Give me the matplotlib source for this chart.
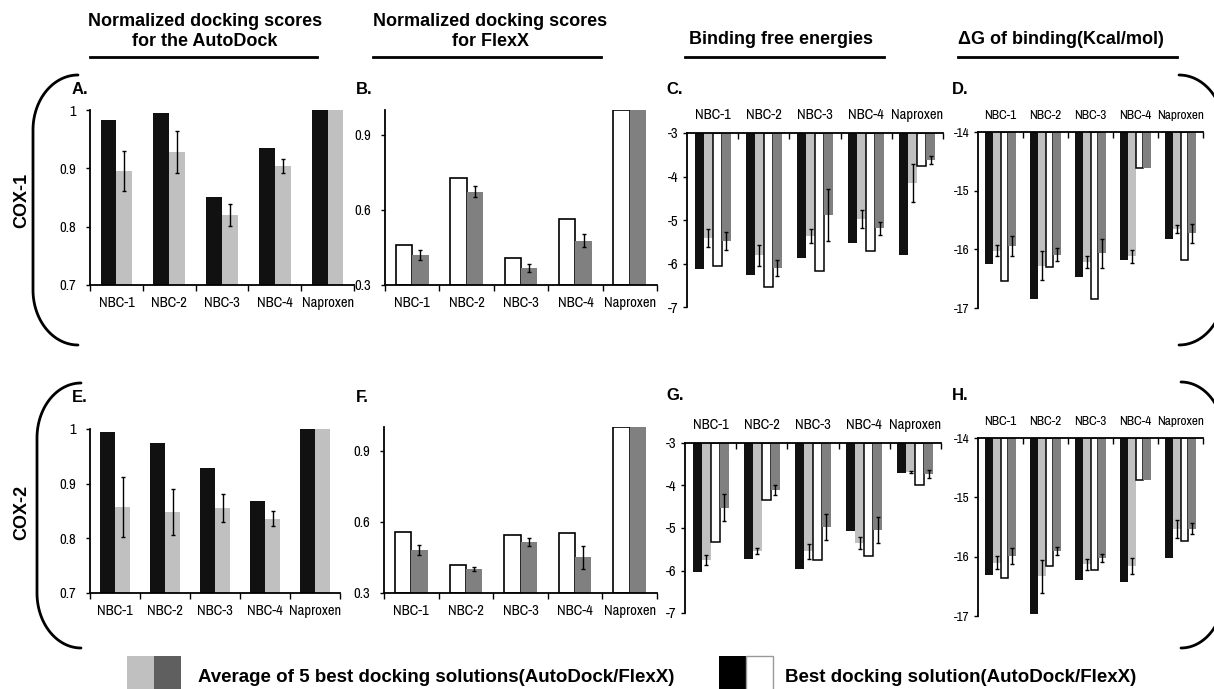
import matplotlib
matplotlib.use("Agg")
import matplotlib.pyplot as plt
import numpy as np
from matplotlib.patches import Rectangle
from matplotlib.ticker import FixedLocator

plt.rcParams["axes.unicode_minus"] = False

compounds = ["NBC-1", "NBC-2", "NBC-3", "NBC-4", "Naproxen"]

# A / E: normalized AutoDock scores (best = black, average of 5 = light grey)
cox1_autodock_best = [0.982, 0.994, 0.851, 0.934, 1.0]
cox1_autodock_avg = [0.895, 0.928, 0.820, 0.904, 1.0]
cox1_autodock_err = [0.034, 0.036, 0.019, 0.012, 0.0]
cox2_autodock_best = [0.995, 0.974, 0.928, 0.869, 1.0]
cox2_autodock_avg = [0.858, 0.849, 0.855, 0.836, 1.0]
cox2_autodock_err = [0.055, 0.042, 0.026, 0.014, 0.0]

# B / F: normalized FlexX scores (best = white, average of 5 = dark grey)
cox1_flexx_best = [0.460, 0.727, 0.407, 0.563, 1.0]
cox1_flexx_avg = [0.420, 0.673, 0.367, 0.477, 1.0]
cox1_flexx_err = [0.020, 0.023, 0.017, 0.027, 0.0]
cox2_flexx_best = [0.559, 0.419, 0.543, 0.552, 1.0]
cox2_flexx_avg = [0.482, 0.401, 0.515, 0.450, 1.0]
cox2_flexx_err = [0.022, 0.009, 0.016, 0.048, 0.0]

# C / G: binding free energies
cox1_bfe_ad_best = [-6.12, -6.27, -5.87, -5.52, -5.80]
cox1_bfe_ad_avg = [-5.42, -5.81, -5.37, -4.98, -4.15]
cox1_bfe_ad_err = [0.21, 0.24, 0.17, 0.21, 0.44]
cox1_bfe_fx_best = [-6.06, -6.54, -6.18, -5.72, -3.77]
cox1_bfe_fx_avg = [-5.48, -6.10, -4.89, -5.19, -3.62]
cox1_bfe_fx_err = [0.20, 0.18, 0.60, 0.15, 0.10]
cox2_bfe_ad_best = [-6.04, -5.73, -5.97, -5.06, -3.70]
cox2_bfe_ad_avg = [-5.75, -5.55, -5.55, -5.36, -3.68]
cox2_bfe_ad_err = [0.12, 0.07, 0.17, 0.14, 0.03]
cox2_bfe_fx_best = [-5.34, -4.33, -5.75, -5.67, -3.99]
cox2_bfe_fx_avg = [-4.52, -4.11, -4.97, -5.05, -3.73]
cox2_bfe_fx_err = [0.32, 0.12, 0.31, 0.30, 0.10]

# D / H: dG of binding (kcal/mol)
cox1_dg_ad_best = [-16.25, -16.84, -16.48, -16.18, -15.83]
cox1_dg_ad_avg = [-16.02, -16.28, -16.22, -16.12, -15.66]
cox1_dg_ad_err = [0.10, 0.25, 0.10, 0.11, 0.07]
cox1_dg_fx_best = [-16.54, -16.30, -16.85, -14.61, -16.18]
cox1_dg_fx_avg = [-15.95, -16.09, -16.07, -14.61, -15.73]
cox1_dg_fx_err = [0.17, 0.11, 0.24, 0.0, 0.16]
cox2_dg_ad_best = [-16.31, -16.97, -16.39, -16.42, -16.03]
cox2_dg_ad_avg = [-16.10, -16.33, -16.13, -16.16, -15.54]
cox2_dg_ad_err = [0.11, 0.28, 0.09, 0.13, 0.15]
cox2_dg_fx_best = [-16.36, -16.15, -16.22, -14.71, -15.74]
cox2_dg_fx_avg = [-15.99, -15.91, -16.02, -14.71, -15.53]
cox2_dg_fx_err = [0.13, 0.07, 0.07, 0.0, 0.09]

score_ad_ticks = [0.7, 0.8, 0.9, 1.0]
score_ad_labels = ["0.7", "0.8", "0.9", "1"]
score_fx_ticks = [0.3, 0.6, 0.9]
score_fx_labels = ["0.3", "0.6", "0.9"]
bfe_ticks = [-7, -6, -5, -4, -3]
bfe_labels = ["-7", "-6", "-5", "-4", "-3"]
dg_ticks = [-17, -16, -15, -14]
dg_labels = ["-17", "-16", "-15", "-14"]

BLACK = "#111111"
LIGHT = "#c0c0c0"
DARK = "#808080"
BOLD = ["Liberation Sans", "DejaVu Sans"]
NARROW = ["Archivo Narrow", "Liberation Sans Narrow", "Liberation Sans", "DejaVu Sans"]

W, H = 1214, 689


def frame(x0, y0, x1, y1):
    return [x0 / W, 1 - y1 / H, (x1 - x0) / W, (y1 - y0) / H]


def errbars(ax, x, vals, err):
    vals, err = np.asarray(vals), np.asarray(err)
    keep = err > 0
    ax.errorbar(x[keep], vals[keep], yerr=err[keep], fmt="none", ecolor="black",
                elinewidth=1.0, capsize=1.6, capthick=1.0, zorder=4)


def style_ticks(ax, size, ypad):
    for lab in ax.get_xticklabels() + ax.get_yticklabels():
        lab.set_family(NARROW)
        lab.set_fontweight("medium")
        lab.set_fontsize(size)
    ax.tick_params(axis="y", direction="out", length=3, width=1.0, pad=ypad)
    for s in ax.spines.values():
        s.set_linewidth(1.3)


def score_panel(ax, best, avg, err, ymin, ymax, ticks, labels, flexx):
    x = np.arange(len(compounds))
    best, avg = np.asarray(best), np.asarray(avg)
    w = 0.3
    if flexx:
        ax.bar(x - w / 2, best - ymin, w, bottom=ymin, color="white", edgecolor="black", linewidth=1.2)
        ax.bar(x + w / 2, avg - ymin, w, bottom=ymin, color=DARK)
    else:
        ax.bar(x - w / 2, best - ymin, w, bottom=ymin, color=BLACK)
        ax.bar(x + w / 2, avg - ymin, w, bottom=ymin, color=LIGHT)
    errbars(ax, x + w / 2, avg, err)
    ax.set_xlim(-0.5, 4.5)
    ax.set_ylim(ymin, ymax)
    ax.set_yticks(ticks)
    ax.set_yticklabels(labels)
    ax.set_xticks(x)
    ax.set_xticklabels(compounds)
    ax.xaxis.set_minor_locator(FixedLocator(np.arange(-0.5, 5, 1.0)))
    ax.tick_params(axis="x", which="major", length=0, pad=8)
    ax.tick_params(axis="x", which="minor", direction="out", length=4, width=1.0)
    ax.spines[["top", "right"]].set_visible(False)
    style_ticks(ax, 10.5, 7)


def energy_panel(ax, ad_best, ad_avg, ad_err, fx_best, fx_avg, fx_err, ybot, ytop, ticks, labels, size):
    x = np.arange(len(compounds))
    w = 0.175
    ax.bar(x - 1.5 * w, np.asarray(ad_best) - ytop, w, bottom=ytop, color=BLACK)
    ax.bar(x - 0.5 * w, np.asarray(ad_avg) - ytop, w, bottom=ytop, color=LIGHT)
    ax.bar(x + 0.5 * w, np.asarray(fx_best) - ytop, w, bottom=ytop, color="white",
           edgecolor="black", linewidth=1.1)
    ax.bar(x + 1.5 * w, np.asarray(fx_avg) - ytop, w, bottom=ytop, color=DARK)
    errbars(ax, x - 0.5 * w, ad_avg, ad_err)
    errbars(ax, x + 1.5 * w, fx_avg, fx_err)
    ax.set_xlim(-0.5, 4.5)
    ax.set_ylim(ybot, ytop)
    ax.set_yticks(ticks)
    ax.set_yticklabels(labels)
    ax.xaxis.tick_top()
    ax.set_xticks(x)
    ax.set_xticklabels(compounds)
    ax.xaxis.set_minor_locator(FixedLocator(np.arange(0.5, 5, 1.0)))
    ax.tick_params(axis="x", which="major", length=0, pad=8)
    ax.tick_params(axis="x", which="minor", direction="in", length=4, width=1.0)
    ax.spines[["bottom", "right"]].set_visible(False)
    style_ticks(ax, size, 3)


def bracket(ov, x_tip, x_side, y_top, y_bot, r):
    t = np.linspace(0, np.pi / 2, 40)
    dx = x_side - x_tip
    top = np.column_stack([x_tip + dx * np.sin(t), y_top + r - r * np.cos(t)])
    bot = np.column_stack([x_tip + dx * np.cos(t), y_bot - r + r * np.sin(t)])
    pts = np.vstack([top, bot])
    ov.plot(pts[:, 0], pts[:, 1], color="black", linewidth=2.0, solid_capstyle="round")


fig = plt.figure(figsize=(W / 100, H / 100), dpi=100)

ov = fig.add_axes([0, 0, 1, 1])
ov.set_xlim(0, W)
ov.set_ylim(H, 0)
ov.axis("off")

ax_a = fig.add_axes(frame(90, 110, 354, 285))
ax_b = fig.add_axes(frame(385, 110, 657, 285))
ax_c = fig.add_axes(frame(687, 133, 943, 307))
ax_d = fig.add_axes(frame(978, 132, 1203, 308))
ax_e = fig.add_axes(frame(90, 429, 340, 593))
ax_f = fig.add_axes(frame(384, 427, 657, 593))
ax_g = fig.add_axes(frame(685, 443, 941, 613))
ax_h = fig.add_axes(frame(978, 438, 1203, 616))

score_panel(ax_a, cox1_autodock_best, cox1_autodock_avg, cox1_autodock_err, 0.7, 1.0,
            score_ad_ticks, score_ad_labels, flexx=False)
score_panel(ax_e, cox2_autodock_best, cox2_autodock_avg, cox2_autodock_err, 0.7, 1.0,
            score_ad_ticks, score_ad_labels, flexx=False)
score_panel(ax_b, cox1_flexx_best, cox1_flexx_avg, cox1_flexx_err, 0.3, 1.0,
            score_fx_ticks, score_fx_labels, flexx=True)
score_panel(ax_f, cox2_flexx_best, cox2_flexx_avg, cox2_flexx_err, 0.3, 1.0,
            score_fx_ticks, score_fx_labels, flexx=True)
energy_panel(ax_c, cox1_bfe_ad_best, cox1_bfe_ad_avg, cox1_bfe_ad_err,
             cox1_bfe_fx_best, cox1_bfe_fx_avg, cox1_bfe_fx_err, -7, -3, bfe_ticks, bfe_labels, 10.5)
energy_panel(ax_g, cox2_bfe_ad_best, cox2_bfe_ad_avg, cox2_bfe_ad_err,
             cox2_bfe_fx_best, cox2_bfe_fx_avg, cox2_bfe_fx_err, -7, -3, bfe_ticks, bfe_labels, 10.5)
energy_panel(ax_d, cox1_dg_ad_best, cox1_dg_ad_avg, cox1_dg_ad_err,
             cox1_dg_fx_best, cox1_dg_fx_avg, cox1_dg_fx_err, -17, -14, dg_ticks, dg_labels, 9.5)
energy_panel(ax_h, cox2_dg_ad_best, cox2_dg_ad_avg, cox2_dg_ad_err,
             cox2_dg_fx_best, cox2_dg_fx_avg, cox2_dg_fx_err, -17, -14, dg_ticks, dg_labels, 9.5)

# column headers with underlines
head = dict(ha="center", va="center", fontsize=13, fontweight="bold", family=BOLD)
ov.text(205, 22, "Normalized docking scores", **head)
ov.text(205, 41, "for the AutoDock", **head)
ov.text(490, 22, "Normalized docking scores", **head)
ov.text(490, 41, "for FlexX", **head)
ov.text(781, 39, "Binding free energies", **head)
ov.text(1061, 39, "\u0394G of binding(Kcal/mol)", **head)
for x0, x1 in [(90, 317), (373, 601), (685, 884), (958, 1177)]:
    ov.plot([x0, x1], [57, 57], color="black", linewidth=2.0)

# panel letters
letter = dict(ha="left", va="center", fontsize=12, fontweight="bold", family=BOLD)
for s, x, y in [("A.", 72, 89), ("B.", 356, 89), ("C.", 666, 89), ("D.", 952, 89),
                ("E.", 72, 397), ("F.", 356, 397), ("G.", 666, 395), ("H.", 952, 395)]:
    ov.text(x, y, s, **letter)

ov.text(22, 200, "COX-1", rotation=90, ha="center", va="center", fontsize=13,
        fontweight="bold", family=BOLD)
ov.text(22, 512, "COX-2", rotation=90, ha="center", va="center", fontsize=13,
        fontweight="bold", family=BOLD)

bracket(ov, 78, 33, 75, 345, 55)
bracket(ov, 81, 37, 383, 648, 55)
bracket(ov, 1179, 1224, 75, 345, 55)
bracket(ov, 1181, 1224, 382, 648, 55)

# legend
ov.add_patch(Rectangle((127, 656), 27, 34, facecolor=LIGHT, edgecolor="none"))
ov.add_patch(Rectangle((154, 656), 27, 34, facecolor="#5f5f5f", edgecolor="none"))
ov.add_patch(Rectangle((719, 656), 27, 34, facecolor="black", edgecolor="none"))
ov.add_patch(Rectangle((746, 656), 27, 34, facecolor="white", edgecolor="#999999", linewidth=1.0))
leg = dict(ha="left", va="center", fontsize=13.5, fontweight="bold", family=BOLD)
ov.text(198, 678, "Average of 5 best docking solutions(AutoDock/FlexX)", **leg)
ov.text(785, 678, "Best docking solution(AutoDock/FlexX)", **leg)

fig.savefig("out.png", dpi=100)
